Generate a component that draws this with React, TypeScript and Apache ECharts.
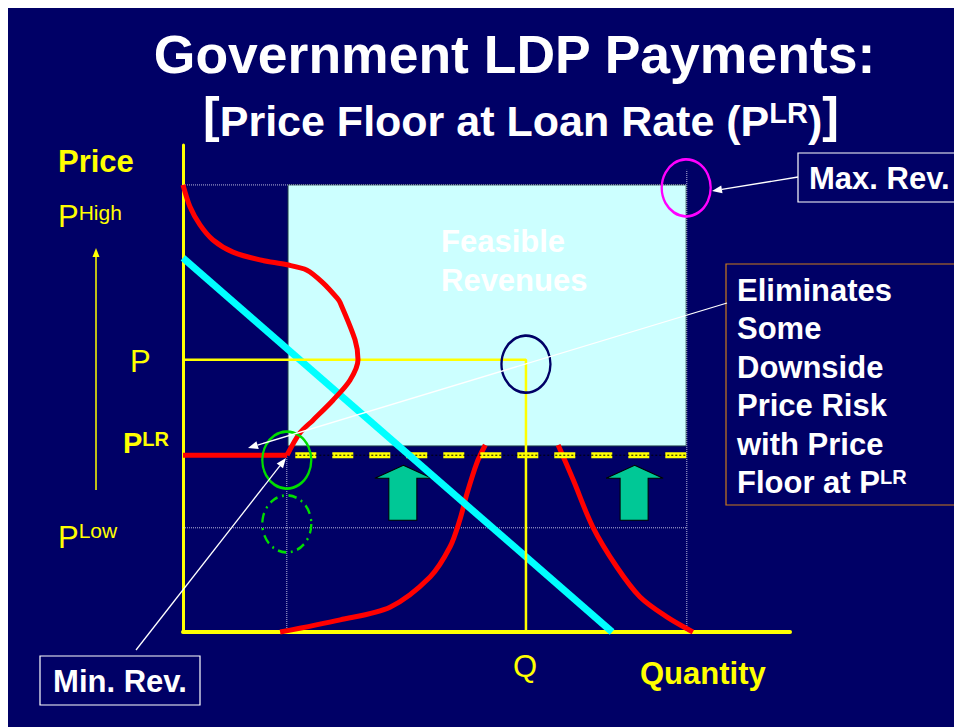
import React, { useEffect, useRef } from "react";
import * as echarts from "echarts";

const FONT = '"Liberation Sans", Arial, Helvetica, sans-serif';

// ---- values (axis units: quantity 0-100, price 0-100) ----
const priceLevelNames = ["PHigh", "P", "PLR", "PLow"];
const priceLevelValues = [91.8, 55.9, 36.3, 21.4];
const quantityQ = 56.5;
const feasibleQ = [17.3, 82.9];
const feasibleP = [38.2, 91.8];
const minRevQ = 17.1;
const maxRevQ = 83.0;
const floorDashQ = [18.5, 83.0];

// price distribution (left red curve)
const priceDistX = [0, 1.15, 2.8, 4.94, 8.24, 12.69, 17.13, 20.43, 23.06, 25.37, 25.9, 28.34, 28.83, 27.51, 24.71, 21.42, 19.28, 17.13];
const priceDistY = [91.8, 87.3, 83.6, 80.5, 78.0, 76.4, 75.4, 74.3, 71.7, 68.6, 67.6, 60.0, 55.9, 51.7, 47.6, 43.5, 40.9, 36.3];

// demand line
const demandX = [0, 70.7];
const demandY = [76.8, 0];

// quantity distribution tails (lower red curves)
const tailLowX = [16.0, 25.9, 34.1, 40.7, 44.0, 45.6, 46.8, 48.4, 49.8];
const tailLowY = [0, 2.5, 5.1, 11.3, 17.5, 23.0, 28.5, 34.7, 38.4];
const tailHighX = [61.8, 64.3, 67.5, 71.5, 75.3, 79.7, 84.0];
const tailHighY = [38.4, 31.2, 21.6, 13.3, 7.2, 3.1, 0];

// ellipses marking points
const ringX = [17.1, 17.1, 82.9, 56.5];
const ringY = [35.3, 22.2, 91.2, 55.0];
const ringColors = ["#00dd00", "#00dd00", "#ff00ff", "#000066"];
const ringDash = [false, true, false, false];

// green up arrows
const upArrowX = [36.3, 74.4];
const upArrowY = [28.6, 28.6];

const elimLines = ["Eliminates", "Some", "Downside", "Price Risk", "with Price"];

const [P_HIGH, P_MID, P_LR, P_LOW] = priceLevelValues;

let measureCtx: CanvasRenderingContext2D | null = null;
function textWidth(t: string, size: number, bold: boolean) {
  if (!measureCtx) measureCtx = document.createElement("canvas").getContext("2d");
  if (!measureCtx) return t.length * size * 0.55;
  measureCtx.font = `${bold ? "bold " : ""}${size}px ${FONT}`;
  return measureCtx.measureText(t).width;
}

type Part = { t: string; size: number; bold: boolean; y: number };

function textEl(t: string, x: number, y: number, size: number, bold: boolean, fill: string, align = "left") {
  return {
    type: "text",
    x,
    y,
    z: 100,
    silent: true,
    style: {
      text: t,
      fill,
      fontSize: size,
      fontWeight: bold ? "bold" : "normal",
      fontFamily: FONT,
      align,
      verticalAlign: "middle",
    },
  };
}

function runs(x: number, parts: Part[], fill: string, align: "left" | "center" = "left") {
  const widths = parts.map((p) => textWidth(p.t, p.size, p.bold));
  const total = widths.reduce((a, b) => a + b, 0);
  let cx = align === "center" ? x - total / 2 : x;
  const out: any[] = [];
  parts.forEach((p, i) => {
    out.push(textEl(p.t, cx, p.y, p.size, p.bold, fill));
    cx += widths[i];
  });
  return out;
}

function arrow(x1: number, y1: number, x2: number, y2: number, color: string, w: number, head = 10, half = 4) {
  const a = Math.atan2(y2 - y1, x2 - x1);
  const bx = x2 - head * Math.cos(a);
  const by = y2 - head * Math.sin(a);
  const nx = -Math.sin(a) * half;
  const ny = Math.cos(a) * half;
  return [
    { type: "line", z: 100, silent: true, shape: { x1, y1, x2: bx, y2: by }, style: { stroke: color, lineWidth: w } },
    {
      type: "polygon",
      z: 100,
      silent: true,
      shape: { points: [[x2, y2], [bx + nx, by + ny], [bx - nx, by - ny]] },
      style: { fill: color },
    },
  ];
}

function pairs(xs: number[], ys: number[]) {
  return xs.map((x, i) => [x, ys[i]]);
}

function lineSeries(data: number[][], color: string, width: number, z: number, extra: any = {}) {
  return {
    type: "line",
    data,
    z,
    symbol: "none",
    silent: true,
    clip: false,
    lineStyle: { color, width, type: extra.type || "solid", cap: "butt" },
    smooth: extra.smooth || false,
  };
}

export default function App() {
  const ref = useRef<HTMLDivElement>(null);

  useEffect(() => {
    document.documentElement.style.overflow = "hidden";
    document.body.style.overflow = "hidden";
    if (!ref.current) return;
    const chart = echarts.init(ref.current, undefined, { renderer: "svg" });

    const dotted = "rgba(215,215,240,0.85)";
    const series: any[] = [
      {
        type: "custom",
        z: 1,
        silent: true,
        data: [[feasibleQ[0], feasibleP[1], feasibleQ[1], feasibleP[0]]],
        renderItem: (params: any, api: any) => {
          const p0 = api.coord([api.value(0), api.value(1)]);
          const p1 = api.coord([api.value(2), api.value(3)]);
          return {
            type: "rect",
            shape: { x: p0[0], y: p0[1], width: p1[0] - p0[0], height: p1[1] - p0[1] },
            style: { fill: "#ccffff", stroke: "#1e3c46", lineWidth: 1 },
          };
        },
      },
      lineSeries([[0, P_HIGH], [maxRevQ, P_HIGH]], dotted, 1, 2, { type: "dotted" }),
      lineSeries([[0, P_LOW], [maxRevQ, P_LOW]], dotted, 1, 2, { type: "dotted" }),
      lineSeries([[minRevQ, 0], [minRevQ, P_LR]], dotted, 1, 2, { type: "dotted" }),
      lineSeries([[maxRevQ, 0], [maxRevQ, 94.9]], dotted, 1, 2, { type: "dotted" }),
      lineSeries(pairs(tailLowX, tailLowY), "#ff0000", 5, 3, { smooth: 0.3 }),
      lineSeries(pairs(tailHighX, tailHighY), "#ff0000", 5, 3, { smooth: 0.3 }),
      lineSeries([[floorDashQ[0], P_LR], [floorDashQ[1], P_LR]], "#ffff00", 6, 4, { type: [21, 16] }),
      lineSeries([[floorDashQ[0], P_LR], [floorDashQ[1], P_LR]], "#000000", 1, 5, { type: [2, 2] }),
      {
        type: "scatter",
        z: 5,
        silent: true,
        data: pairs(upArrowX, upArrowY),
        symbol: "path://M28.5,0L57,13L42,13L42,55L14,55L14,13L0,13Z",
        symbolSize: [57, 55],
        itemStyle: { color: "#00c896", borderColor: "#000000", borderWidth: 1, opacity: 1 },
      },
      lineSeries(pairs(demandX, demandY), "#00ffff", 7, 6),
      lineSeries([[0, P_MID], [quantityQ, P_MID], [quantityQ, 0]], "#ffff00", 2.5, 7),
      lineSeries(pairs(priceDistX, priceDistY), "#ff0000", 5, 8, { smooth: 0.3 }),
      lineSeries([[0, P_LR], [priceDistX[priceDistX.length - 1], P_LR]], "#ff0000", 5, 8),
    ];
    ringX.forEach((x, i) => {
      series.push({
        type: "scatter",
        z: 9,
        silent: true,
        data: [[x, ringY[i]]],
        symbol: "circle",
        symbolSize: [49, 57],
        itemStyle: {
          color: "rgba(0,0,0,0)",
          borderColor: ringColors[i],
          borderWidth: 2.5,
          borderType: ringDash[i] ? [9, 5, 2, 5] : "solid",
          opacity: 1,
        },
      });
    });

    const white = "#ffffff";
    const yellow = "#ffff00";
    const g: any[] = [];
    g.push(textEl("Government LDP Payments:", 506.5, 46, 53.5, true, white, "center"));
    g.push(
      ...runs(
        513,
        [
          { t: "[", size: 50, bold: true, y: 106.7 },
          { t: "Price Floor at Loan Rate (P", size: 43, bold: true, y: 112.5 },
          { t: "LR", size: 29, bold: true, y: 105 },
          { t: ")", size: 43, bold: true, y: 112.5 },
          { t: "]", size: 50, bold: true, y: 106.7 },
        ],
        white,
        "center"
      )
    );
    g.push(textEl("Price", 50, 153, 31, true, yellow));
    g.push(...runs(50, [{ t: "P", size: 31, bold: false, y: 208.5 }, { t: "High", size: 21, bold: false, y: 204 }], yellow));
    g.push(textEl("P", 122, 353, 31, false, yellow));
    g.push(...runs(115, [{ t: "P", size: 29, bold: true, y: 435 }, { t: "LR", size: 20, bold: true, y: 430.5 }], yellow));
    g.push(...runs(50, [{ t: "P", size: 31, bold: false, y: 529.5 }, { t: "Low", size: 21, bold: false, y: 522 }], yellow));
    g.push(textEl("Q", 517, 658, 31, false, yellow, "center"));
    g.push(textEl("Quantity", 632, 665, 31, true, yellow));
    g.push(textEl("Feasible", 433, 233, 31, true, white));
    g.push(textEl("Revenues", 433, 272, 31, true, white));

    // annotation boxes
    g.push({ type: "rect", z: 99, silent: true, shape: { x: 790, y: 145, width: 220, height: 49 }, style: { fill: "#000066", stroke: white, lineWidth: 1.2 } });
    g.push(textEl("Max. Rev.", 801, 170, 31, true, white));
    g.push({ type: "rect", z: 99, silent: true, shape: { x: 718, y: 256, width: 320, height: 241 }, style: { fill: "#000066", stroke: "#cc7a1a", lineWidth: 1.2 } });
    const elimYs = [282.5, 320.5, 359, 397.5, 436];
    elimLines.forEach((t, i) => g.push(textEl(t, 729, elimYs[i], 31, true, white)));
    g.push(...runs(729, [{ t: "Floor at P", size: 31, bold: true, y: 474.5 }, { t: "LR", size: 20, bold: true, y: 468.5 }], white));
    g.push({ type: "rect", z: 99, silent: true, shape: { x: 32, y: 648, width: 160, height: 49 }, style: { fill: "#000066", stroke: white, lineWidth: 1.2 } });
    g.push(textEl("Min. Rev.", 112, 673, 31, true, white, "center"));

    // arrows
    g.push(...arrow(719, 295, 240, 440, white, 1.3, 10, 4));
    g.push(...arrow(790, 169, 704, 183, white, 1.3, 10, 4));
    g.push(...arrow(128, 642, 278, 450, white, 1.3, 10, 4));
    g.push(...arrow(88, 482, 88, 240, yellow, 1.5, 9, 3.5));

    chart.setOption({
      animation: false,
      backgroundColor: "#000066",
      grid: { left: 175, top: 137, width: 607, height: 487 },
      xAxis: {
        type: "value",
        min: 0,
        max: 100,
        axisLine: { show: true, onZero: false, lineStyle: { color: "#ffff00", width: 4 } },
        axisTick: { show: false },
        axisLabel: { show: false },
        splitLine: { show: false },
      },
      yAxis: {
        type: "value",
        min: 0,
        max: 100,
        axisLine: { show: true, onZero: false, lineStyle: { color: "#ffff00", width: 3 } },
        axisTick: { show: false },
        axisLabel: { show: false },
        splitLine: { show: false },
      },
      series,
      graphic: { elements: g },
    });

    return () => chart.dispose();
  }, []);

  return (
    <div
      ref={ref}
      style={{ position: "fixed", left: 8, top: 8, width: 1000, height: 760 }}
    />
  );
}
